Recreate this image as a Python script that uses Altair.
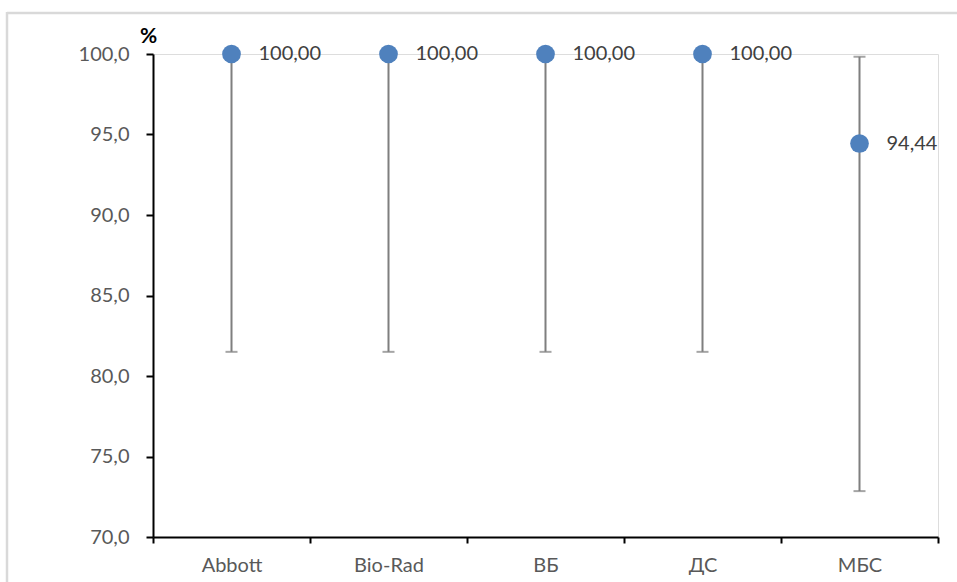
import altair as alt
import pandas as pd

# Detection rate (%) per test system with 95% confidence interval
systems = ["Abbott", "Bio-Rad", "ВБ", "ДС", "МБС"]
rate = [100.0, 100.0, 100.0, 100.0, 94.44]
ci_low = [81.5, 81.5, 81.5, 81.5, 72.85]
ci_high = [100.0, 100.0, 100.0, 100.0, 99.83]

df = pd.DataFrame({"system": systems, "rate": rate, "lo": ci_low, "hi": ci_high})

FONT = "Lato"
W, H = 785, 483
PAD = {"left": 153, "top": 54, "right": 19, "bottom": 45}

x_enc = alt.X(
    "system:N",
    sort=systems,
    scale=alt.Scale(paddingInner=0, paddingOuter=0),
    axis=alt.Axis(
        title=None,
        labelAngle=0,
        labelFont=FONT,
        labelFontSize=20,
        labelColor="#595959",
        labelPadding=12,
        tickBand="extent",
        tickSize=6,
        tickWidth=2,
        tickColor="#000000",
        domainColor="#000000",
        domainWidth=2,
    ),
)

y_scale = alt.Scale(domain=[70, 100], nice=False, zero=False)
y_axis = alt.Axis(
    values=[70, 75, 80, 85, 90, 95, 100],
    labelExpr="replace(format(datum.value, '.1f'), '.', ',')",
    labelFont=FONT,
    labelFontSize=20,
    labelColor="#595959",
    labelPadding=17,
    tickSize=7,
    tickWidth=2,
    tickColor="#000000",
    domainColor="#000000",
    domainWidth=2,
    grid=False,
    title="%",
    titleAngle=0,
    titleFont=FONT,
    titleFontSize=21,
    titleFontWeight="bold",
    titleColor="#000000",
    titleX=-5,
    titleY=-12,
    titleAlign="center",
    titleBaseline="alphabetic",
)

base = alt.Chart(df)

whisker = base.mark_rule(color="#7F7F7F", strokeWidth=2).encode(
    x=x_enc,
    y=alt.Y("lo:Q", scale=y_scale, axis=y_axis),
    y2="hi:Q",
)

cap_lo = base.mark_tick(color="#7F7F7F", size=12, thickness=2).encode(
    x=alt.X("system:N", sort=systems), y=alt.Y("lo:Q", scale=y_scale)
)
cap_hi = base.mark_tick(color="#7F7F7F", size=12, thickness=2).encode(
    x=alt.X("system:N", sort=systems), y=alt.Y("hi:Q", scale=y_scale)
)

dots = base.mark_point(filled=True, shape="circle", size=350, color="#4F81BD", opacity=1).encode(
    x=alt.X("system:N", sort=systems), y=alt.Y("rate:Q", scale=y_scale)
)

labels = base.transform_calculate(
    txt="replace(format(datum.rate, '.2f'), '.', ',')"
).mark_text(
    align="left", baseline="middle", dx=27, font=FONT, fontSize=20, color="#404040"
).encode(
    x=alt.X("system:N", sort=systems), y=alt.Y("rate:Q", scale=y_scale), text="txt:N"
)

# light frame around the chart area (top and left edges)
frame_top = alt.Chart(pd.DataFrame({"k": [0]})).mark_rule(
    color="#D9D9D9", strokeWidth=2.5
).encode(x=alt.value(-146), x2=alt.value(804), y=alt.value(-41))
frame_left = alt.Chart(pd.DataFrame({"k": [0]})).mark_rule(
    color="#D9D9D9", strokeWidth=2.5
).encode(x=alt.value(-146), y=alt.value(-42), y2=alt.value(528))

chart = (
    alt.layer(whisker, cap_lo, cap_hi, dots, labels, frame_top, frame_left)
    .properties(width=W, height=H, padding=PAD, autosize=alt.AutoSizeParams(type="none"))
    .configure_view(stroke=None)
    .configure(background="#FFFFFF")
)

chart.save("out.html", embed_options={"renderer": "svg", "actions": False})
